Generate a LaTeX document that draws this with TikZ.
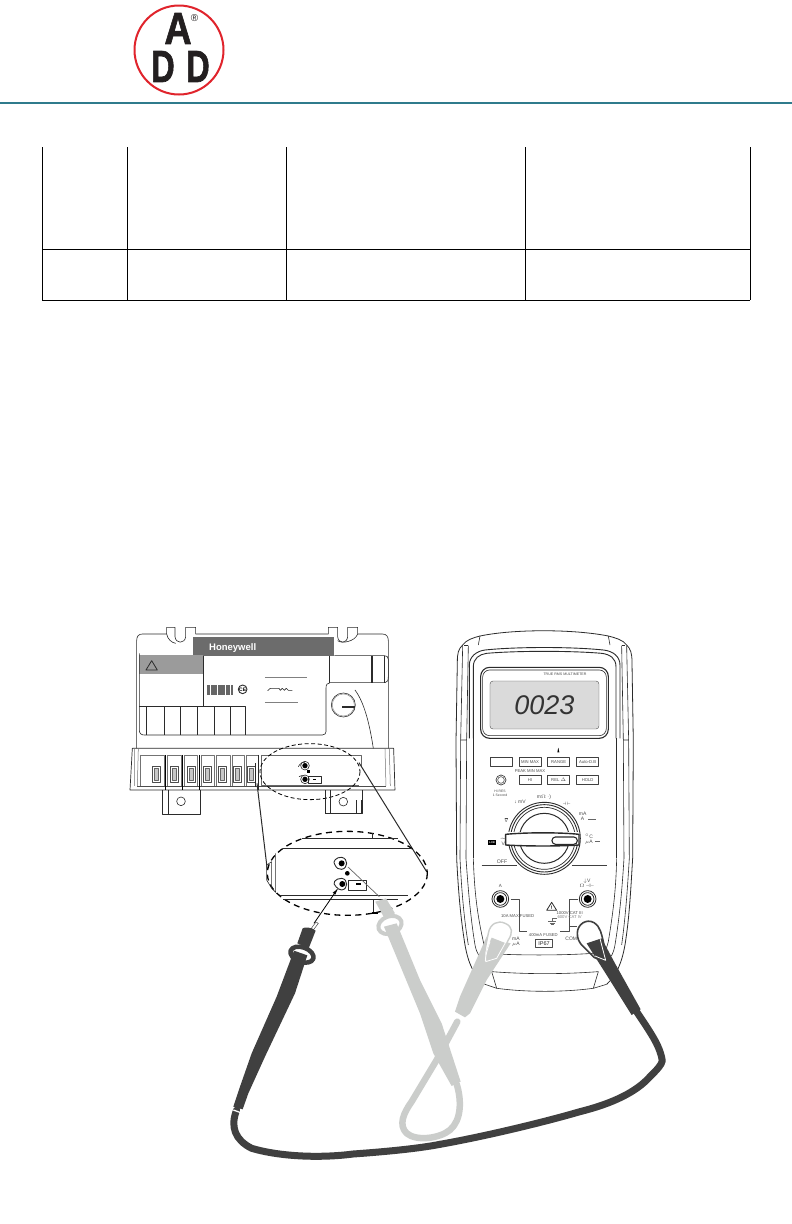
\documentclass[tikz,border=0pt]{standalone}
\usepackage{fontspec}
\setmainfont{Liberation Sans}
\newfontfamily\logofont[BoldFeatures={FakeBold=1.6}]{Liberation Sans}
\definecolor{teal1}{HTML}{2F7B8C}
\definecolor{logored}{HTML}{E0242C}
\definecolor{logoink}{HTML}{231F20}
\definecolor{pdark}{HTML}{404040}
\definecolor{pgray}{HTML}{CBCDCB}
\definecolor{lcd}{HTML}{DADADA}
\definecolor{hwgray}{HTML}{6C6C6C}
\definecolor{wgray}{HTML}{9B9B9B}
\definecolor{inkc}{HTML}{2B2B2B}
\tikzset{
  zdev/.style={shift={(125,620)},x=0.3333pt,y=-0.3333pt},
  zell/.style={shift={(230,800)},x=0.3333pt,y=-0.3333pt},
  zmet/.style={shift={(440,625)},x=0.3333pt,y=-0.3333pt},
  zpr/.style={shift={(220,880)},x=0.3333pt,y=-0.3333pt},
  zpr2/.style={shift={(440,900)},x=0.3333pt,y=-0.3333pt},
  ink/.style={draw=inkc,line width=0.6pt},
  inkb/.style={draw=inkc,line width=1pt},
  tbl/.style={draw=black,line width=0.7pt},
  small/.style={inner sep=0pt,text=black!70,font=\fontsize{4.2}{4.6}\selectfont,align=center},
  dash1/.style={draw=black,line width=1pt,dash pattern=on 5pt off 3.5pt},
  logoletter/.style={inner sep=0pt,text=logoink,font=\logofont\fontsize{45}{45}\bfseries\selectfont},
}
\begin{document}
\begin{tikzpicture}[x=1pt,y=-1pt,line join=round]
\useasboundingbox (0,0) rectangle (792,1224);
\fill[white] (0,0) rectangle (792,1224);
% header
\fill[teal1] (0,101.5) rectangle (792,104);
\draw[logored,line width=2pt] (179,50) circle (44.5);
\node[logoletter,xscale=.84] (la) at (178,28.5) {A};
\node[logoletter,xscale=.72] (ld1) at (163,66.5) {D};
\node[logoletter,xscale=.72] (ld2) at (198,66.5) {D};
\node[inner sep=0pt,font=\fontsize{10}{10}\selectfont,text=logoink] (lr) at (194.5,18.5) {®};
% table
\draw[tbl] (42,147) -- (42,300) (127,147) -- (127,300) (286,147) -- (286,300) (525,147) -- (525,300) (750,147) -- (750,300);
\draw[tbl] (42,249) -- (750,249) (42,300) -- (750,300);

% ---------- control device
\begin{scope}[zdev]
\draw[ink] (35,385) -- (35,62) .. controls (35,50) and (40,42) .. (52,42) -- (125,42) -- (125,22) -- (150,22) -- (150,50) .. controls (152,72) and (180,72) .. (182,50) -- (182,22) -- (212,22) -- (212,42) -- (610,42) -- (610,22) -- (638,22) -- (638,50) .. controls (640,72) and (666,72) .. (668,50) -- (668,22) -- (698,22) -- (698,42) -- (772,42) .. controls (785,42) and (790,50) .. (790,62) -- (790,385);
\draw[ink] (125,42) .. controls (128,58) and (140,68) .. (152,70);
\draw[ink] (638,62) .. controls (650,72) and (690,65) .. (698,42);
\fill[hwgray] (205,50) -- (628,50) -- (628,107) -- (205,107) -- cycle;
\node[inner sep=0pt,text=white,font=\fontsize{9.5}{10}\bfseries\selectfont] (hw) at (323,83) {Honeywell};
\fill[wgray] (43,105) rectangle (235,162);
\draw[ink,line width=0.8pt] (80,122) -- (97,150) -- (63,150) -- cycle;
\draw[ink] (43,100) -- (43,330) .. controls (43,340) and (48,345) .. (58,345) -- (592,345) .. controls (600,345) and (603,340) .. (603,335) -- (603,205) .. controls (603,195) and (606,188) .. (615,188) -- (780,188) .. controls (788,188) and (790,180) .. (790,170) -- (790,118) .. controls (790,110) and (785,107) .. (778,107) -- (628,107);
\draw[ink] (235,107) -- (235,258) (43,258) -- (360,258) -- (360,345);
\foreach \vx in {63,118,167,217,267,316} \draw[ink] (\vx,258) -- (\vx,345);
\draw[ink] (612,107) -- (612,188) (738,107) -- (738,188) (742,107) -- (742,188) (778,107) -- (778,188);
\draw[ink] (655,255) circle (36);
\draw[draw=black!50,line width=0.4pt] (655,255) circle (33);
\fill[inkc] (652,258) rectangle (690,263);
\draw[ink] (690,210) .. controls (720,250) and (735,320) .. (745,385);
\foreach \bx in {247,250,253,257,261,264,267,270,274,278,281,284,288,291,295,298,302,306,309,313,317,320}
  \draw[draw=black!60,line width=0.3pt] (\bx,196) -- (\bx,225);
\draw[ink,line width=0.9pt] (353,208) circle (13);
\node[inner sep=0pt,font=\fontsize{5}{5}\bfseries\selectfont] (ce) at (353,208) {CE};
\draw[draw=black!50,line width=0.6pt] (420,173) -- (547,173) (420,247) -- (520,247);
\draw[ink] (428,212) -- (436,205) -- (462,205) -- (466,211) -- (472,205) -- (478,211) -- (484,205) -- (490,211) -- (502,211);
% bottom strip
\draw[ink,line width=0.7pt] (15,510) -- (22,385) -- (806,385) -- (810,510) -- cycle;
\draw[draw=black!55,line width=0.5pt] (28,385) -- (28,498) (40,385) -- (37,498) (780,385) -- (783,498) (793,385) -- (796,498);
\draw[draw=black!70,line width=0.5pt] (37,498) -- (783,498);
\foreach \ax/\bx in {45/118,128/168,178/218,228/268,275/315,322/358,365/400}{
  \draw[draw=black!55,line width=0.5pt] (\ax,405) -- (\bx,405) -- (\bx,498);
  \draw[draw=black!55,line width=0.5pt] (\ax,405) -- (\ax,498);
}
\draw[draw=black,line width=0.9pt] (121,405) -- (121,510) (173,405) -- (173,510) (222,405) -- (222,510);
\foreach \cx in {94,147,199,247,293,337,379}{
  \draw[draw=black!70,line width=0.6pt] (\cx-12,438) rectangle (\cx+12,486);
  \fill[black!22] (\cx-6,445) rectangle (\cx+6,480);
  \draw[draw=black!60,line width=0.4pt] (\cx-6,445) rectangle (\cx+6,480);
}
\draw[inkb] (392,430) -- (392,500) (400,405) -- (400,510);
\fill[white] (408,405) rectangle (710,495);
\draw[draw=black!60,line width=0.6pt] (408,405) -- (710,405) -- (710,440) (408,405) -- (408,495) -- (703,495);
\draw[dash1,line width=0.8pt,dash pattern=on 4pt off 2.5pt] (555,455) ellipse (150 and 84);
\draw[ink] (520,440) .. controls (525,430) and (535,425) .. (540,427);
\draw[ink] (522,470) .. controls (526,466) and (534,466) .. (538,468);
\fill[black] (540,437) circle (8);
\fill[black] (540,478) circle (8);
\draw[ink] (540,437) circle (13);
\draw[ink] (540,478) circle (13);
\fill[black] (546,450) rectangle (556,458);
\draw[ink,line width=0.9pt] (550,468) rectangle (590,491);
\fill[black] (564,477) rectangle (574,480);
\coordinate (dl) at (396,490);
\coordinate (dr) at (702,428);
% lower tabs
\draw[ink] (113,510) -- (113,582) -- (225,582) -- (225,510) (130,510) -- (130,582);
\draw[ink] (168,544) circle (13);
\draw[ink] (602,510) -- (602,580) -- (712,580) -- (712,510) (617,510) -- (617,580);
\draw[ink] (655,545) circle (13);
\end{scope}

% ---------- enlarged detail
\begin{scope}[zell]
\coordinate (el) at (112,210);
\coordinate (er) at (590,215);
\draw[inkc,line width=1pt] (dl) -- (el);
\draw[inkc,line width=1pt] (dr) -- (er);
\draw[ink] (285,0) -- (285,40) -- (395,40) -- (395,0) (302,0) -- (302,40) (378,0) -- (378,40);
\draw[dash1,line width=1.3pt,dash pattern=on 6pt off 4.5pt] (352,220) ellipse (240 and 126);
\draw[ink,line width=0.8pt] (215,115) -- (505,115) (160,145) -- (545,145);
\draw[ink] (427,100) -- (427,115);
\draw[ink] (125,185) -- (110,195) -- (110,240) -- (125,265) -- (125,185) (137,160) -- (137,277) -- (125,265);
\draw[ink,line width=0.8pt] (150,285) -- (535,285) (160,298) -- (505,298);
\draw[ink] (430,298) -- (430,340);
\fill[black] (425,337) rectangle (445,343);
\draw[ink,line width=0.9pt] (315,195) .. controls (305,185) and (320,170) .. (335,172) .. controls (355,175) and (355,205) .. (335,208) .. controls (325,208) and (320,205) .. (315,195);
\draw[ink,line width=0.9pt] (318,260) .. controls (305,250) and (315,235) .. (335,235) .. controls (355,237) and (355,268) .. (335,270) .. controls (328,270) and (322,265) .. (318,260);
\fill[black] (335,190) circle (9);
\fill[black] (337,252) circle (9);
\fill[black] (352,220) circle (7);
\draw[ink,line width=1pt] (355,240) rectangle (410,272);
\fill[black] (378,249) rectangle (392,254);
\end{scope}

% ---------- multimeter
\begin{scope}[zmet]
\draw[ink,line width=0.8pt] (120,33) .. controls (220,12) and (400,12) .. (505,33);
\draw[ink,line width=0.8pt] (120,33) .. controls (100,38) and (78,45) .. (68,60) .. controls (55,72) and (52,85) .. (52,110) -- (48,350) -- (50,700) .. controls (55,800) and (62,880) .. (75,960) .. controls (85,1015) and (100,1050) .. (135,1078);
\draw[ink,line width=0.8pt] (505,33) .. controls (525,38) and (550,45) .. (560,60) .. controls (572,72) and (576,85) .. (576,110) -- (580,350) -- (578,700) .. controls (572,800) and (568,880) .. (555,960) .. controls (545,1015) and (530,1050) .. (500,1078);
\draw[ink] (120,33) -- (115,60) (505,33) -- (510,60);
\draw[ink] (72,60) -- (85,60) (555,60) -- (545,60);
\draw[ink] (68,62) -- (62,345) -- (80,345) -- (85,62) (560,62) -- (566,345) -- (550,345) -- (545,62);
% bezel
\draw[ink,line width=0.9pt] (88,340) -- (88,120) .. controls (88,95) and (110,78) .. (135,75) .. controls (230,65) and (395,65) .. (490,75) .. controls (520,78) and (540,95) .. (540,120) -- (540,340);
\draw[ink,line width=0.9pt] (100,340) -- (100,125) .. controls (100,100) and (118,88) .. (140,85) .. controls (230,77) and (395,77) .. (485,85) .. controls (510,88) and (528,100) .. (528,125) -- (528,340);
\draw[inkb,line width=1.1pt,rounded corners=9pt] (122,127) -- (505,127) -- (505,340) -- (122,340) -- cycle;
\draw[ink,rounded corners=7pt] (128,135) -- (499,135) -- (499,332) -- (128,332) -- cycle;
\fill[lcd,draw=black!70,line width=0.4pt,rounded corners=3pt] (150,168) rectangle (477,312);
\node[small,font=\fontsize{3.6}{4}\selectfont] (topt) at (375,148) {TRUE RMS MULTIMETER};
\node[inner sep=0pt,text=black!80,font=\fontsize{27}{27}\itshape\selectfont] (digits) at (313,241) {0023};
% sides lower
\draw[ink] (62,345) -- (60,700) .. controls (65,800) and (72,880) .. (85,960);
\draw[ink] (566,345) -- (568,700) .. controls (562,800) and (556,880) .. (545,960);
\draw[ink] (80,345) -- (78,700) .. controls (85,800) and (92,880) .. (105,960) .. controls (110,985) and (118,1000) .. (135,1000);
\draw[ink] (550,345) -- (552,700) .. controls (546,800) and (538,880) .. (525,960) .. controls (520,985) and (515,1000) .. (500,1000);
\draw[ink] (100,700) .. controls (103,800) and (112,870) .. (130,950) -- (135,985);
\draw[ink] (530,700) .. controls (528,800) and (518,870) .. (505,950) -- (495,985);
\draw[ink] (100,340) -- (100,700) (530,340) -- (530,700);
\draw[ink] (135,985) .. controls (230,992) and (400,992) .. (495,982);
\draw[ink] (155,1040) .. controls (260,1048) and (370,1048) .. (475,1040);
\draw[ink] (155,1040) -- (170,1090) (475,1040) -- (460,1090);
\draw[ink] (135,1078) -- (170,1090) .. controls (260,1102) and (370,1102) .. (460,1090) -- (500,1078);
% buttons
\foreach \bx/\by/\bt/\nm in {150/398//b1,237/398/MIN MAX/b2,323/398/RANGE/b3,410/398/Auto-D.B/b4,237/452/HI/E/b5,323/452/REL $\Delta$/b6,410/452/HOLD/b7}{
  \draw[draw=black!75,line width=0.8pt] (\bx,\by) rectangle ++(66,27);
  \node[small] (\nm) at (\bx+33,\by+13.5) {\bt};
}
\fill[black] (355,368) -- (352,382) -- (358,382) -- cycle;
\node[small] (pk) at (270,438) {PEAK MIN MAX};
\draw[draw=black!75,line width=0.7pt] (183,465) circle (15);
\draw[draw=black!75,line width=0.5pt] (183,465) circle (10);
\node[small,font=\fontsize{3.4}{3.8}\selectfont] (hires) at (180,505) {Hi RES\\1 Second};
% dial
\draw[draw=inkc,line width=0.9pt] (313,640) circle (108);
\draw[draw=inkc,line width=0.9pt] (313,640) circle (101);
\draw[draw=inkc,line width=0.7pt] (313,640) circle (93);
\draw[draw=inkc,line width=1pt] (313,640) circle (75);
\fill[white] (197,622) rectangle (418,664);
\draw[draw=inkc,line width=1.4pt,fill=white] (197,628) .. controls (260,622) and (360,622) .. (417,628) -- (417,660) .. controls (360,664) and (260,664) .. (197,660) -- cycle;
\draw[draw=inkc,line width=1.1pt,fill=white,rounded corners=3.5pt] (336,636) rectangle (412,658);
% base line
\draw[draw=black!75,line width=0.7pt] (125,722) -- (230,722) (396,722) -- (500,722);
\node[small,font=\fontsize{5.2}{5.5}\selectfont] (off) at (186,709) {OFF};
\node[small,font=\fontsize{5}{5}\selectfont] (lv1) at (199,585) {$\overline{\mathrm{V}}$};
\node[small,font=\fontsize{5}{5}\selectfont] (lv2) at (190,652) {$\widetilde{\mathrm{V}}$};
\fill[black] (145,645) rectangle (168,659);
\node[small,text=white,font=\fontsize{2.6}{3}\bfseries\selectfont] (lb) at (156.5,652) {LCR};
\node[small,font=\fontsize{5}{5}\selectfont] (lmv) at (240,530) {\textbf{↓} mV};
\node[small,font=\fontsize{5}{5}\selectfont] (lohm) at (312,518) {m$\Omega$ $\cdot$)};
\node[small,font=\fontsize{5}{5}\selectfont] (lcap) at (380,535) {$\dashv\vdash$};
\node[small,font=\fontsize{5}{5}\selectfont] (lma) at (428,575) {mA\\A};
\node[small,font=\fontsize{5}{5}\selectfont] (lua) at (447,643) {$^{\circ}$C\\$\mu$A};
\draw[draw=black!60,line width=0.5pt] (445,582) -- (468,582) (465,650) -- (480,650);
% jacks
\foreach \jx/\nm in {181/ja,443/jb}{
  \draw[draw=inkc,line width=0.8pt] (\jx,822) circle (25);
  \draw[draw=inkc,line width=0.8pt] (\jx,822) circle (19);
  \fill[black] (\jx,822) circle (12);
}
\node[small,font=\fontsize{4.5}{5}\selectfont] (ta) at (181,782) {A};
\node[small,font=\fontsize{5}{5.2}\selectfont] (tv) at (441,775) {$\downarrow$V\\$\Omega$ $\dashv\vdash$};
\draw[draw=black!70,line width=0.6pt] (212,823) -- (238,823) -- (238,918) -- (262,918) (360,918) -- (388,918) -- (388,823) -- (415,823) (388,905) -- (412,905);
\node[small] (tf1) at (233,872) {10A MAX FUSED};
\node[small] (tf2) at (310,930) {400mA FUSED};
\draw[inkc,line width=0.8pt] (335,832) -- (350,856) -- (320,856) -- cycle;
\node[inner sep=0pt,font=\fontsize{5}{5}\bfseries\selectfont] (wi) at (335,849) {!};
\node[small] (tc1) at (389,864) {1000V CAT III};
\node[small,text=black!50] (tc2) at (389,876) {600V CAT IV};
\draw[draw=black!60,line width=0.5pt] (350,880) -- (337,880) -- (337,890) (325,890) -- (349,890) (329,894) -- (345,894) (333,898) -- (341,898);
\node[small,font=\fontsize{5}{5.4}\selectfont] (tu) at (228,951) {mA\\$\mu$A};
\draw[draw=black!70,line width=0.7pt] (286,942) rectangle (338,968);
\node[small,font=\fontsize{5.5}{5.5}\selectfont,text=black!85] (ip) at (312,955) {IP67};
\node[small,font=\fontsize{5}{5}\selectfont] (tcom) at (394,942) {COM};
\end{scope}

% ---------- gray probe
\begin{scope}[zpr]
\draw[black!60,line width=0.7pt] (384,-39) -- (478,50);
\fill[pgray] (466,65) -- (498,55) -- (525,100) -- (492,112) -- cycle;
\draw[pgray,line width=6.5pt,line cap=round] (710,612) .. controls (725,660) and (725,720) .. (690,750) .. controls (660,775) and (590,785) .. (560,760) .. controls (535,735) and (550,700) .. (575,665) -- (650,540) -- (712,425);
\draw[pgray,line width=4pt,fill=white,rotate around={20:(510,135)}] (510,135) ellipse (36 and 26);
\fill[pgray] (492,140) -- (530,130) -- (600,300) -- (665,430) -- (722,605) -- (695,618) -- (640,520) -- (600,400) -- cycle;
\fill[pgray] (800,170) -- (872,190) -- (800,300) -- (750,400) -- (735,412) -- (705,395) -- (720,350) -- (760,260) -- cycle;
\end{scope}
\begin{scope}[zmet]
\draw[pgray,line width=1.4pt,fill=white] (145,925) .. controls (150,895) and (175,885) .. (195,895) .. controls (220,905) and (218,925) .. (205,945) -- (175,1005) -- (132,1010) .. controls (132,985) and (140,950) .. (145,925) -- cycle;
\fill[pgray] (155,938) -- (198,955) -- (175,1008) -- (135,1008) .. controls (135,985) and (145,960) .. (155,938) -- cycle;
\draw[white,line width=0.8pt] (150,950) .. controls (140,980) and (135,995) .. (137,1010) -- (170,1000) -- (198,950);
\end{scope}

% ---------- black probe
\begin{scope}[zpr]
\draw[black,line width=0.8pt] (352,28) -- (282,130);
\fill[black] (352,28) -- (338,38) -- (346,44) -- cycle;
\draw[black!70,line width=0.5pt] (288,126) -- (295,130) -- (280,150) -- (274,145) -- cycle;
\fill[pdark] (248,145) .. controls (255,140) and (275,142) .. (287,152) -- (266,205) -- (232,190) -- cycle;
\draw[pdark,line width=7pt,line cap=round] (50,690) .. controls (30,740) and (45,780) .. (95,805) .. controls (180,830) and (300,835) .. (400,822) .. controls (500,815) and (600,805) .. (660,793);
\draw[white,line width=1.3pt] (40,690) -- (62,698);
\draw[pdark,line width=4.5pt,fill=white,rotate around={-20:(246,224)}] (246,224) ellipse (36 and 22);
\fill[pdark] (222,212) -- (262,226) -- (225,340) -- (135,530) -- (85,640) -- (68,688) -- (40,680) -- (60,620) -- (95,520) -- (170,350) -- cycle;
\end{scope}
\begin{scope}[zpr2]
\draw[pdark,line width=7pt,line cap=round] (0,733) .. controls (120,712) and (300,670) .. (420,635) .. controls (520,610) and (590,575) .. (630,530) .. controls (650,510) and (665,495) .. (667,482) .. controls (660,440) and (640,410) .. (590,335);
\fill[pdark] (440,130) -- (485,115) -- (525,190) -- (602,328) -- (575,345) -- (500,225) -- (465,170) -- cycle;
\draw[pdark,line width=1.6pt] (412,100) .. controls (412,72) and (440,55) .. (462,68) .. controls (482,80) and (485,105) .. (490,125) -- (500,188) -- (462,172) -- (425,135) .. controls (417,125) and (412,115) .. (412,100) -- cycle;
\fill[white] (420,100) .. controls (420,78) and (442,66) .. (458,75) .. controls (470,82) and (474,95) .. (477,107) -- (445,124) -- (428,125) .. controls (423,118) and (420,110) .. (420,100) -- cycle;
\draw[white,line width=0.8pt] (478,108) -- (497,181) -- (465,168);
\end{scope}
\end{tikzpicture}
\end{document}
